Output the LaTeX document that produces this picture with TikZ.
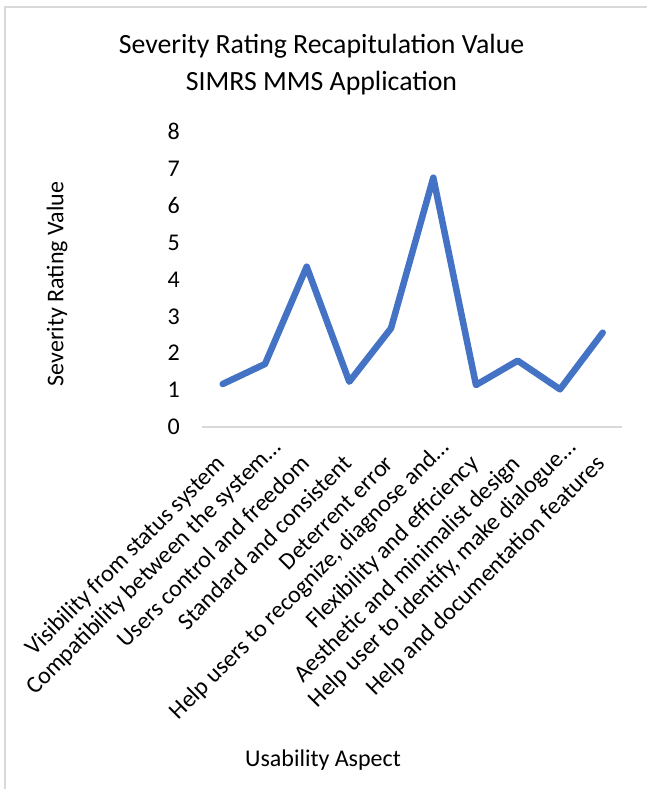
\documentclass[tikz,border=0pt]{standalone}
\usepackage{fontspec}
\setmainfont{Carlito}
\definecolor{serieblue}{HTML}{4472C4}
\definecolor{framegray}{HTML}{D9D9D9}
\tikzset{
  ttl/.style={font=\fontsize{27.8}{34}\selectfont, inner sep=0pt, anchor=base},
  ticklab/.style={font=\fontsize{24}{29}\selectfont, inner sep=0pt, anchor=east},
  axtitle/.style={font=\fontsize{24}{29}\selectfont, inner sep=0pt},
  catlab/.style={font=\fontsize{24}{29}\selectfont, inner sep=0pt, anchor=base east, rotate=45},
  frameline/.style={draw=framegray, line width=2pt},
  axisline/.style={draw=framegray, line width=1.5pt},
  serie/.style={draw=serieblue, line width=6.5pt, line join=round, line cap=round},
}
\begin{document}
\begin{tikzpicture}[x=1pt,y=-1pt]
\useasboundingbox (0,0) rectangle (647,789);
\fill[white] (0,0) rectangle (647,789);
% frame
\coordinate (fb) at (5,789);
\coordinate (ftl) at (5,7);
\coordinate (ftr) at (647,7);
\draw[frameline] (fb) -- (ftl) -- (ftr);
% title
\node[ttl] (title1) at (321.5,54) {Severity Rating Recapitulation Value};
\node[ttl] (title2) at (321.5,90.5) {SIMRS MMS Application};
% y ticks
\foreach \i in {0,...,8} {
  \node[ticklab] (tick\i) at (180,{427-36.9*\i}) {\i};
}
% axis line
\coordinate (axL) at (202,427);
\coordinate (axR) at (622,427);
\draw[axisline] (axL) -- (axR);
% data
\coordinate (p1) at (222.7,384);
\coordinate (p2) at (265,364);
\coordinate (p3) at (306.7,266.7);
\coordinate (p4) at (349.3,381.7);
\coordinate (p5) at (391,328.3);
\coordinate (p6) at (433.3,177.7);
\coordinate (p7) at (476,385);
\coordinate (p8) at (517.7,360.7);
\coordinate (p9) at (560,389.3);
\coordinate (p10) at (602.7,332.7);
\draw[serie] (p1) -- (p2) -- (p3) -- (p4) -- (p5) -- (p6) -- (p7) -- (p8) -- (p9) -- (p10);
% category labels
\node[catlab] (c1) at (226.7,465) {Visibility from status system};
\node[catlab] (c2) at (282,449) {Compatibility between the system…};
\node[catlab] (c3) at (310.7,465) {Users control and freedom};
\node[catlab] (c4) at (353.3,465) {Standard and consistent};
\node[catlab] (c5) at (395,465) {Deterrent error};
\node[catlab] (c6) at (450.3,449) {Help users to recognize, diagnose and…};
\node[catlab] (c7) at (480,465) {Flexibility and efficiency};
\node[catlab] (c8) at (521.7,465) {Aesthetic and minimalist design};
\node[catlab] (c9) at (577,449) {Help user to identify, make dialogue…};
\node[catlab] (c10) at (606.7,465) {Help and documentation features};
% axis titles
\node[axtitle, rotate=90] (ytitle) at (57,284) {Severity Rating Value};
\node[axtitle] (xtitle) at (323,760) {Usability Aspect};
\end{tikzpicture}
\end{document}
